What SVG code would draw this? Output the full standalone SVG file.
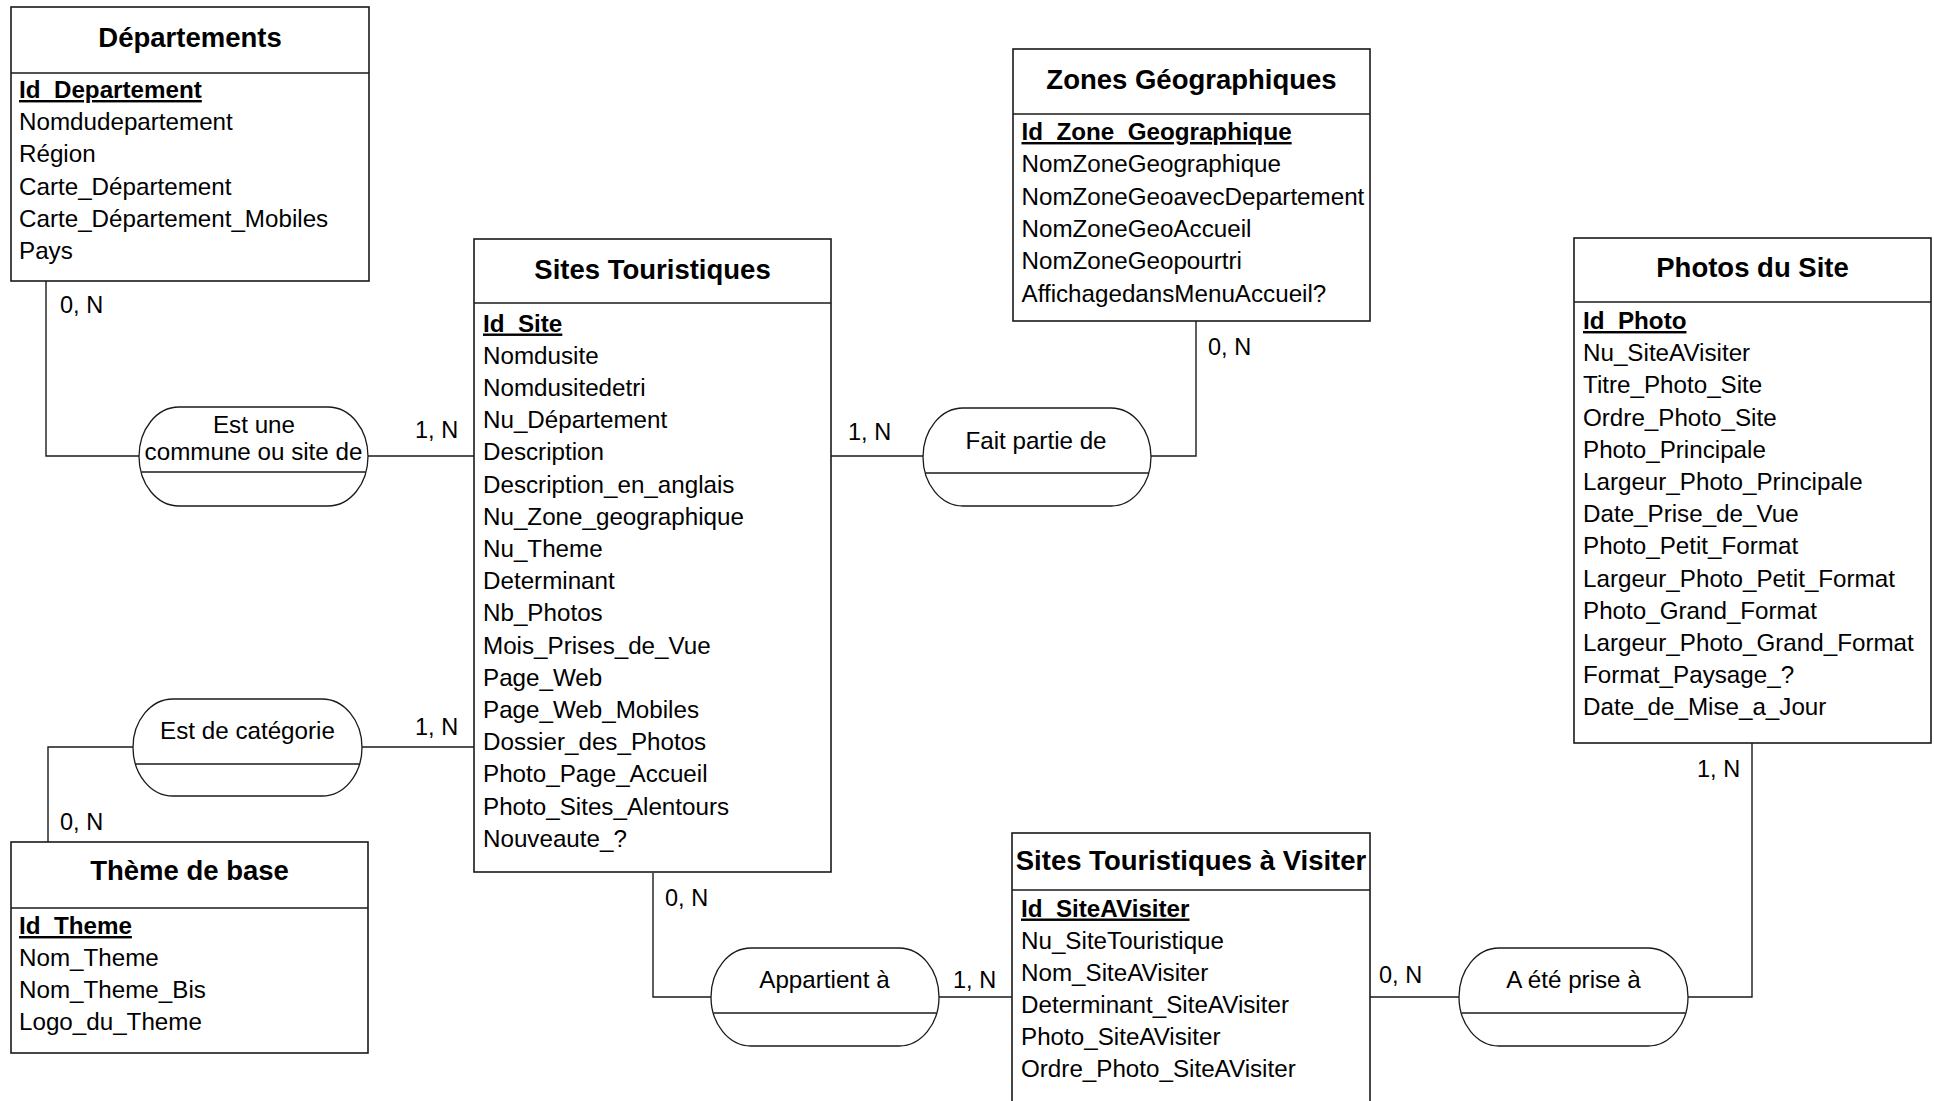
<svg xmlns="http://www.w3.org/2000/svg" width="1934" height="1101" viewBox="0 0 1934 1101">
<style>
.box{fill:#fff;stroke:#1a1a1a;stroke-width:1.6}
.div{stroke:#1a1a1a;stroke-width:1.6}
.rel{fill:#fff;stroke:#1a1a1a;stroke-width:1.3}
.con{fill:none;stroke:#1a1a1a;stroke-width:1.4}
text{font-family:"Liberation Sans",Arial,sans-serif;fill:#000}
.t{font-size:27.5px;font-weight:bold;text-anchor:middle}
.a{font-size:24.2px}
.k{font-size:24.2px;font-weight:bold;text-decoration:underline}
.r{font-size:24.2px;text-anchor:middle}
.c{font-size:23.5px}
</style>
<rect width="1934" height="1101" fill="#fff"/>

<g id="connectors">
<path class="con" d="M46,281 V456 H139 M368,456 H474"/>
<path class="con" d="M831,456 H923 M1151,456 H1196 V321"/>
<path class="con" d="M474,747 H362 M133,747 H48 V842"/>
<path class="con" d="M653,873 V997 H711 M939,997 H1012"/>
<path class="con" d="M1370,997 H1459 M1688,997 H1752 V743"/>
<text class="c" x="60" y="313">0, N</text>
<text class="c" x="415" y="438">1, N</text>
<text class="c" x="848" y="440">1, N</text>
<text class="c" x="1208" y="355">0, N</text>
<text class="c" x="415" y="735">1, N</text>
<text class="c" x="60" y="830">0, N</text>
<text class="c" x="665" y="906">0, N</text>
<text class="c" x="953" y="988">1, N</text>
<text class="c" x="1379" y="983">0, N</text>
<text class="c" x="1697" y="777">1, N</text>
</g>

<g id="departements">
<rect class="box" x="11" y="7" width="358" height="274"/>
<line class="div" x1="11" y1="73" x2="369" y2="73"/>
<text class="t" x="190" y="46.5">Départements</text>
<text class="k" x="19" y="98">Id_Departement</text>
<text class="a" x="19" y="130">Nomdudepartement</text>
<text class="a" x="19" y="162">Région</text>
<text class="a" x="19" y="194.5">Carte_Département</text>
<text class="a" x="19" y="226.5">Carte_Département_Mobiles</text>
<text class="a" x="19" y="259">Pays</text>
</g>

<g id="sites-touristiques">
<rect class="box" x="474" y="239" width="357" height="633"/>
<line class="div" x1="474" y1="303" x2="831" y2="303"/>
<text class="t" x="652.5" y="279">Sites Touristiques</text>
<text class="k" x="483" y="331.5">Id_Site</text>
<text class="a" x="483" y="363.7">Nomdusite</text>
<text class="a" x="483" y="395.9">Nomdusitedetri</text>
<text class="a" x="483" y="428.1">Nu_Département</text>
<text class="a" x="483" y="460.3">Description</text>
<text class="a" x="483" y="492.5">Description_en_anglais</text>
<text class="a" x="483" y="524.7">Nu_Zone_geographique</text>
<text class="a" x="483" y="556.9">Nu_Theme</text>
<text class="a" x="483" y="589.1">Determinant</text>
<text class="a" x="483" y="621.3">Nb_Photos</text>
<text class="a" x="483" y="653.5">Mois_Prises_de_Vue</text>
<text class="a" x="483" y="685.7">Page_Web</text>
<text class="a" x="483" y="717.9">Page_Web_Mobiles</text>
<text class="a" x="483" y="750.1">Dossier_des_Photos</text>
<text class="a" x="483" y="782.3">Photo_Page_Accueil</text>
<text class="a" x="483" y="814.5">Photo_Sites_Alentours</text>
<text class="a" x="483" y="846.7">Nouveaute_?</text>
</g>

<g id="zones-geographiques">
<rect class="box" x="1013" y="49" width="357" height="272"/>
<line class="div" x1="1013" y1="114" x2="1370" y2="114"/>
<text class="t" x="1191.5" y="89">Zones Géographiques</text>
<text class="k" x="1021.5" y="140">Id_Zone_Geographique</text>
<text class="a" x="1021.5" y="172.3">NomZoneGeographique</text>
<text class="a" x="1021.5" y="204.6">NomZoneGeoavecDepartement</text>
<text class="a" x="1021.5" y="236.9">NomZoneGeoAccueil</text>
<text class="a" x="1021.5" y="269.2">NomZoneGeopourtri</text>
<text class="a" x="1021.5" y="301.5">AffichagedansMenuAccueil?</text>
</g>

<g id="photos-du-site">
<rect class="box" x="1574" y="238" width="357" height="505"/>
<line class="div" x1="1574" y1="302" x2="1931" y2="302"/>
<text class="t" x="1752.5" y="277">Photos du Site</text>
<text class="k" x="1583" y="329">Id_Photo</text>
<text class="a" x="1583" y="361.2">Nu_SiteAVisiter</text>
<text class="a" x="1583" y="393.4">Titre_Photo_Site</text>
<text class="a" x="1583" y="425.6">Ordre_Photo_Site</text>
<text class="a" x="1583" y="457.8">Photo_Principale</text>
<text class="a" x="1583" y="490">Largeur_Photo_Principale</text>
<text class="a" x="1583" y="522.2">Date_Prise_de_Vue</text>
<text class="a" x="1583" y="554.4">Photo_Petit_Format</text>
<text class="a" x="1583" y="586.6">Largeur_Photo_Petit_Format</text>
<text class="a" x="1583" y="618.8">Photo_Grand_Format</text>
<text class="a" x="1583" y="651">Largeur_Photo_Grand_Format</text>
<text class="a" x="1583" y="683.2">Format_Paysage_?</text>
<text class="a" x="1583" y="715.4">Date_de_Mise_a_Jour</text>
</g>

<g id="theme-de-base">
<rect class="box" x="11" y="842" width="357" height="211"/>
<line class="div" x1="11" y1="908" x2="368" y2="908"/>
<text class="t" x="189.5" y="880">Thème de base</text>
<text class="k" x="19" y="934">Id_Theme</text>
<text class="a" x="19" y="966">Nom_Theme</text>
<text class="a" x="19" y="998">Nom_Theme_Bis</text>
<text class="a" x="19" y="1030">Logo_du_Theme</text>
</g>

<g id="sites-a-visiter">
<rect class="box" x="1012" y="833" width="358" height="290"/>
<line class="div" x1="1012" y1="890" x2="1370" y2="890"/>
<text class="t" x="1191" y="870">Sites Touristiques à Visiter</text>
<text class="k" x="1021" y="916.5">Id_SiteAVisiter</text>
<text class="a" x="1021" y="948.5">Nu_SiteTouristique</text>
<text class="a" x="1021" y="980.5">Nom_SiteAVisiter</text>
<text class="a" x="1021" y="1012.5">Determinant_SiteAVisiter</text>
<text class="a" x="1021" y="1044.5">Photo_SiteAVisiter</text>
<text class="a" x="1021" y="1076.5">Ordre_Photo_SiteAVisiter</text>
</g>

<g id="rel-est-une-commune">
<rect class="rel" x="139" y="407" width="229" height="99" rx="40" ry="49.5"/>
<line class="rel" x1="141.5" y1="472" x2="365.5" y2="472"/>
<text class="r" x="254" y="433">Est une</text>
<text class="r" x="253.5" y="460">commune ou site de</text>
</g>

<g id="rel-fait-partie">
<rect class="rel" x="923" y="408" width="228" height="98" rx="40" ry="49"/>
<line class="rel" x1="925.5" y1="473" x2="1148.5" y2="473"/>
<text class="r" x="1036" y="449">Fait partie de</text>
</g>

<g id="rel-est-de-categorie">
<rect class="rel" x="133" y="699" width="229" height="97" rx="40" ry="48.5"/>
<line class="rel" x1="135.5" y1="764" x2="359.5" y2="764"/>
<text class="r" x="247.5" y="739">Est de catégorie</text>
</g>

<g id="rel-appartient">
<rect class="rel" x="711" y="948" width="228" height="98" rx="40" ry="49"/>
<line class="rel" x1="713.5" y1="1013" x2="936.5" y2="1013"/>
<text class="r" x="824.5" y="988">Appartient à</text>
</g>

<g id="rel-a-ete-prise">
<rect class="rel" x="1459" y="948" width="229" height="98" rx="40" ry="49"/>
<line class="rel" x1="1461.5" y1="1013" x2="1685.5" y2="1013"/>
<text class="r" x="1573.5" y="988">A été prise à</text>
</g>
</svg>
